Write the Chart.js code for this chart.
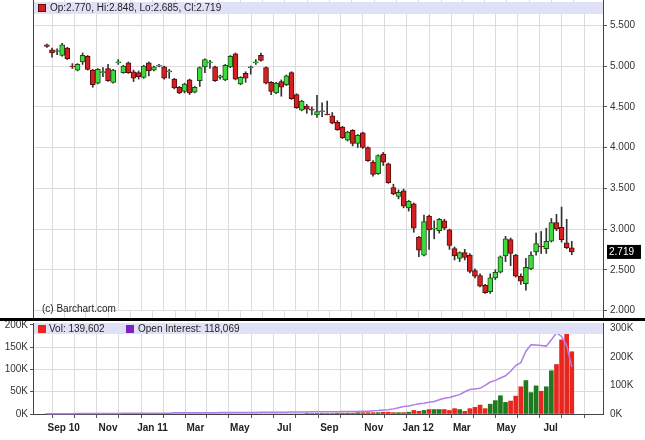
<!DOCTYPE html>
<html><head><meta charset="utf-8">
<script src="https://cdn.jsdelivr.net/npm/chart.js@4"></script>
<style>
body{margin:0;background:#fff;width:645px;height:440px;overflow:hidden;position:relative}
#c1{position:absolute;left:0;top:0}
#c2{position:absolute;left:0;top:314px}
</style></head><body>
<canvas id="c1" width="645" height="320"></canvas>
<canvas id="c2" width="645" height="126"></canvas>
<script>
const startDate = new Date(2010,7,9);
const opens = [5.26,5.20,5.18,5.13,5.22,5.00,4.95,5.05,5.12,4.95,4.79,4.92,4.97,4.80,5.04,4.92,5.04,4.93,4.92,4.86,5.04,4.95,5.00,4.99,4.93,4.84,4.74,4.69,4.83,4.68,4.82,4.99,5.04,4.99,4.86,4.83,4.99,5.15,4.78,4.91,4.98,5.04,5.13,4.98,4.80,4.67,4.81,4.77,4.92,4.65,4.46,4.51,4.47,4.40,4.44,4.41,4.39,4.31,4.25,4.09,4.21,4.05,4.18,4.00,3.82,3.68,3.92,3.80,3.51,3.40,3.47,3.26,3.31,2.90,2.68,3.16,3.00,2.98,3.10,2.99,2.76,2.64,2.71,2.68,2.49,2.43,2.31,2.23,2.40,2.47,2.67,2.87,2.68,2.42,2.33,2.51,2.72,2.79,2.76,2.85,3.08,3.02,2.83,2.770];
const highs = [5.27,5.22,5.21,5.28,5.23,5.03,5.03,5.16,5.13,4.96,4.97,4.98,5.02,4.96,5.08,5.01,5.05,4.95,4.94,5.01,5.05,5.00,5.02,5.00,4.96,4.85,4.75,4.79,4.84,4.75,4.99,5.09,5.07,5.00,4.89,5.02,5.13,5.16,4.87,4.93,5.00,5.08,5.16,4.99,4.81,4.80,4.83,4.89,4.93,4.66,4.58,4.53,4.50,4.64,4.55,4.57,4.43,4.33,4.26,4.20,4.22,4.16,4.19,4.01,3.84,3.91,3.94,3.81,3.55,3.48,3.49,3.35,3.32,2.91,3.17,3.17,3.10,3.13,3.12,3.00,2.78,2.72,2.75,2.70,2.51,2.45,2.32,2.45,2.50,2.67,2.91,2.89,2.69,2.45,2.64,2.72,2.95,2.97,3.01,3.13,3.18,3.27,3.12,2.848];
const lows = [5.23,5.11,5.14,5.12,5.08,4.97,4.94,5.02,4.95,4.74,4.78,4.87,4.81,4.79,5.02,4.91,4.91,4.81,4.84,4.85,4.88,4.94,4.99,4.84,4.85,4.72,4.66,4.67,4.65,4.67,4.75,4.92,4.97,4.81,4.84,4.82,4.98,4.83,4.77,4.80,4.90,5.02,5.06,4.78,4.65,4.66,4.63,4.76,4.59,4.48,4.45,4.42,4.40,4.37,4.38,4.40,4.29,4.21,4.11,4.08,4.02,4.00,3.99,3.83,3.65,3.67,3.78,3.56,3.42,3.37,3.26,3.22,2.96,2.66,2.67,2.75,2.88,2.95,2.99,2.75,2.62,2.60,2.62,2.46,2.40,2.29,2.21,2.21,2.38,2.46,2.60,2.55,2.41,2.32,2.25,2.50,2.68,2.70,2.70,2.84,2.98,2.84,2.76,2.685];
const closes = [5.24,5.16,5.19,5.26,5.09,4.99,5.02,5.13,4.96,4.77,4.96,4.93,4.82,4.95,5.05,5.00,4.92,4.85,4.87,5.00,4.94,4.99,5.01,4.85,4.94,4.73,4.67,4.78,4.67,4.74,4.98,5.08,5.05,4.82,4.88,5.01,5.12,4.84,4.86,4.85,4.99,5.05,5.07,4.79,4.69,4.79,4.74,4.88,4.60,4.49,4.57,4.47,4.46,4.44,4.45,4.40,4.30,4.22,4.12,4.19,4.05,4.15,4.00,3.84,3.67,3.90,3.82,3.57,3.43,3.45,3.28,3.34,3.01,2.74,3.09,2.99,3.01,3.12,3.01,2.80,2.67,2.71,2.65,2.48,2.42,2.30,2.22,2.40,2.47,2.66,2.88,2.70,2.42,2.36,2.53,2.68,2.82,2.78,2.85,3.08,3.00,2.87,2.77,2.719];
const volumeK = [0,0,0,0,0,0,0,0,0,0,0,0,0,0,0,0,0,0,0,0,0,0,0,0,0,0,0,0,0,0,0,0,0,0,0,0,0,0,0,0,0,0,0,0,0,0,0,0,0,0,0,1,1,1,1,1,1,2,2,2,2,3,3,3,3,3,4,4,3,3,3,4,8,6,8,10,10,10,10,8,12,10,6,12,15,20,12,22,30,41,26,29,40,61,75,48,63,51,61,97,111,166,188,139.602];
const openInterestK = [1,1,1,1,1,1,2,2,2,2,2,2,2,2,2,3,3,3,3,3,3,3,3,3,3,4,4,4,4,4,4,4,4,4,5,5,5,5,5,5,5,5,6,6,6,6,6,6,7,7,7,7,8,8,8,8,8,8,9,9,9,9,10,10,11,12,14,15,18,22,26,28,32,36,38,41,44,50,55,58,63,68,78,86,88,90,100,112,118,126,134,150,170,180,220,243,242,240,238,260,285,272,240,165];
const priceTicks = [2.0,2.5,3.0,3.5,4.0,4.5,5.0,5.5];
const volTicks = [0,50,100,150,200];
const oiTicks = [0,100,200,300];
const monthStarts = [[2010,8],[2010,9],[2010,10],[2010,11],[2011,0],[2011,1],[2011,2],[2011,3],[2011,4],[2011,5],[2011,6],[2011,7],[2011,8],[2011,9],[2011,10],[2011,11],[2012,0],[2012,1],[2012,2],[2012,3],[2012,4],[2012,5],[2012,6],[2012,7]];
const monthLabels = ["Sep 10","","Nov","","Jan 11","","Mar","","May","","Jul","","Sep","","Nov","","Jan 12","","Mar","","May","","Jul",""];

const RED='#d42020', REDB='#5a0a0a', GREEN='#3ddc3d', GREENB='#1d4d1d';
const FONT='"Liberation Sans", Arial, sans-serif';
const monthPos = monthStarts.map(([y,m])=>(new Date(y,m,1)-startDate)/(7*864e5));
const XMIN=-0.4, XMAX=106.8;
const idx = closes.map((_,i)=>i);
const up = i => closes[i] >= opens[i];

const wickData = idx.map(i=>({x:i,y:[lows[i],highs[i]]}));
const bodyData = idx.map(i=>{let o=opens[i],c=closes[i];if(Math.abs(o-c)<0.012){const m=(o+c)/2;o=m-0.006;c=m+0.006;}return {x:i,y:[o,c]};});

const monthAxisTicks = s=>{s.ticks = monthPos.map(v=>({value:v}));};

new Chart(document.getElementById('c1'),{
  type:'bar',
  data:{datasets:[
    {data:wickData,backgroundColor:'#333',barThickness:1,grouped:false,order:2},
    {data:bodyData,backgroundColor:c=>up(c.dataIndex)?GREEN:RED,borderColor:c=>up(c.dataIndex)?GREENB:REDB,borderWidth:1,borderSkipped:false,barThickness:5,grouped:false,order:1}
  ]},
  options:{responsive:false,animation:false,layout:{padding:{left:33,top:1,bottom:2,right:0}},
    plugins:{legend:{display:false},tooltip:{enabled:false}},
    scales:{
      x:{type:'linear',min:XMIN,max:XMAX,afterBuildTicks:monthAxisTicks,ticks:{display:false},grid:{color:'#dcdcdc',drawTicks:false},border:{display:false},afterFit:s=>{s.height=0;}},
      y:{position:'right',min:1.994,max:5.70,afterBuildTicks:s=>{s.ticks=priceTicks.map(v=>({value:v}));},
        ticks:{color:'#333',font:{family:FONT,size:10},padding:3,callback:v=>v.toFixed(3)},
        grid:{color:'#dcdcdc',tickLength:4,tickColor:'#555'},border:{color:'#444'},afterFit:s=>{s.width=42;}}
    }},
  plugins:[{id:'deco',beforeDatasetsDraw(ch){
    const g=ch.ctx,a=ch.chartArea;
    g.save();g.strokeStyle='#dcdcdc';g.lineWidth=1;
    ch.scales.x.ticks.forEach(t=>{const x=Math.round(ch.scales.x.getPixelForValue(t.value))+0.5;g.beginPath();g.moveTo(x,0);g.lineTo(x,a.top);g.moveTo(x,a.bottom);g.lineTo(x,318);g.stroke();});
    g.restore();
  },afterDraw(ch){
    const g=ch.ctx,a=ch.chartArea;
    g.save();
    g.fillStyle='#dfe1f7';g.fillRect(a.left+1,2,a.right-a.left-1,12);
    g.fillStyle=RED;g.fillRect(38,4,8,8);g.strokeStyle=REDB;g.strokeRect(38.5,4.5,7,7);
    g.fillStyle='#222';g.font='10px '+FONT;g.textBaseline='middle';
    const L=closes.length-1;
    g.fillText('Op:'+opens[L].toFixed(3)+', Hi:'+highs[L].toFixed(3)+', Lo:'+lows[L].toFixed(3)+', Cl:'+closes[L].toFixed(3),50,8.5);
    g.fillText('(c) Barchart.com',42,309);
    g.strokeStyle='#444';g.lineWidth=1;g.beginPath();g.moveTo(a.left+0.5,0);g.lineTo(a.left+0.5,318);g.moveTo(a.right+0.5,0);g.lineTo(a.right+0.5,318);g.stroke();
    const yp=ch.scales.y.getPixelForValue(closes[L]);
    g.fillStyle='#000';g.fillRect(a.right+4,yp-7,34,14);
    g.fillStyle='#fff';g.fillText(closes[L].toFixed(3),a.right+6,yp+0.5);
    g.restore();
  }}]
});

new Chart(document.getElementById('c2'),{
  type:'bar',
  data:{datasets:[
    {type:'line',data:idx.map(i=>({x:i,y:openInterestK[i]})),yAxisID:'oi',borderColor:'#b07ee6',borderWidth:1.5,pointRadius:0,tension:0,order:0,clip:false},
    {data:idx.map(i=>({x:i,y:volumeK[i]})),yAxisID:'y',backgroundColor:c=>up(c.dataIndex)?'#1f7a1f':'#e8261e',barThickness:4,order:1}
  ]},
  options:{responsive:false,animation:false,layout:{padding:{left:0,top:0,bottom:0,right:0}},
    plugins:{legend:{display:false},tooltip:{enabled:false}},
    scales:{
      x:{type:'linear',min:XMIN,max:XMAX,afterBuildTicks:monthAxisTicks,
        ticks:{autoSkip:false,maxRotation:0,color:'#222',font:{family:FONT,size:10,weight:'bold'},padding:4,callback:(v,i)=>monthLabels[i]},
        grid:{color:'#dcdcdc',tickLength:4,tickColor:'#555'},border:{color:'#444'},afterFit:s=>{s.height=26;}},
      y:{position:'left',min:0,max:204,afterBuildTicks:s=>{s.ticks=volTicks.map(v=>({value:v}));},
        ticks:{color:'#333',font:{family:FONT,size:10},padding:2,callback:v=>v+'K'},
        grid:{color:'#dcdcdc',tickLength:3,tickColor:'#555'},border:{color:'#444'},afterFit:s=>{s.width=33;}},
      oi:{position:'right',min:0,max:319,afterBuildTicks:s=>{s.ticks=oiTicks.map(v=>({value:v}));},
        ticks:{color:'#333',font:{family:FONT,size:10},padding:3,callback:v=>v+'K'},
        grid:{display:false,tickLength:4},border:{color:'#444'},afterFit:s=>{s.width=42;}}
    }},
  plugins:[{id:'deco2',afterDraw(ch){
    const g=ch.ctx,a=ch.chartArea;
    g.save();
    g.fillStyle='#000';g.fillRect(0,4,645,3);
    const bt=9;
    g.fillStyle='#dfe1f7';g.fillRect(a.left+1,bt,a.right-a.left-1,11);
    g.font='10px '+FONT;g.textBaseline='middle';
    g.fillStyle='#e8261e';g.fillRect(38,bt+2,8,8);
    g.fillStyle='#7a22c8';g.fillRect(126,bt+2,8,8);
    g.fillStyle='#222';
    const L=closes.length-1;
    g.fillText('Vol: '+Math.round(volumeK[L]*1000).toLocaleString('en-US'),49,bt+6.5);
    g.fillText('Open Interest: 118,069',138,bt+6.5);
    g.restore();
  }}]
});
</script></body></html>
